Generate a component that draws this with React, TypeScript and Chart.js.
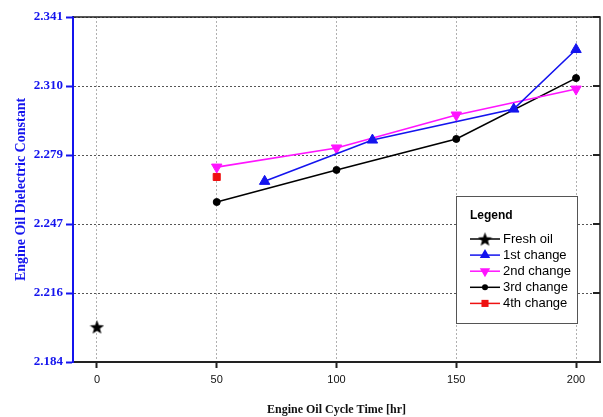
import React, { useEffect, useRef } from 'react';
import { Chart, registerables } from 'chart.js';

Chart.register(...registerables);

// ---- data ----
const xTicks = [0, 50, 100, 150, 200];
const yTickValues = [2.184, 2.2154, 2.2468, 2.2782, 2.3096, 2.341];
const yTickLabels = ['2.184', '2.216', '2.247', '2.279', '2.310', '2.341'];

const freshX = [0];
const freshY = [2.2];
const firstX = [70, 115, 174, 200];
const firstY = [2.2662, 2.285, 2.2991, 2.3262];
const secondX = [50, 100, 150, 200];
const secondY = [2.2727, 2.2814, 2.2964, 2.3082];
const thirdX = [50, 100, 150, 200];
const thirdY = [2.2568, 2.2714, 2.2855, 2.3132];
const fourthX = [50];
const fourthY = [2.2682];

const legendTitle = 'Legend';

const BLUE = '#1414ee';
const MAGENTA = '#ff14ff';
const RED = '#ee1111';
const BLACK = '#000000';

const toPts = (xs: number[], ys: number[]) => xs.map((x, i) => ({ x, y: ys[i] }));

function makeStar(size: number, color: string): HTMLCanvasElement {
  const c = document.createElement('canvas');
  c.width = size;
  c.height = size;
  const g = c.getContext('2d')!;
  g.fillStyle = color;
  g.beginPath();
  const cx = size / 2;
  const cy = size / 2 + size * 0.05;
  for (let i = 0; i < 10; i++) {
    const r = i % 2 === 0 ? size / 2 : (size / 2) * 0.42;
    const a = -Math.PI / 2 + (i * Math.PI) / 5;
    g.lineTo(cx + r * Math.cos(a), cy + r * Math.sin(a));
  }
  g.closePath();
  g.fill();
  return c;
}

function drawMarker(ctx: CanvasRenderingContext2D, style: any, rot: number, x: number, y: number, r: number, color: string) {
  ctx.save();
  ctx.fillStyle = color;
  ctx.strokeStyle = color;
  if (style instanceof HTMLCanvasElement) {
    ctx.drawImage(style, x - style.width / 2, y - style.height / 2);
  } else if (style === 'triangle') {
    const s = rot === 180 ? -1 : 1;
    ctx.beginPath();
    ctx.moveTo(x, y - s * r);
    ctx.lineTo(x + r * 0.866, y + s * r * 0.5);
    ctx.lineTo(x - r * 0.866, y + s * r * 0.5);
    ctx.closePath();
    ctx.fill();
  } else if (style === 'rect') {
    const h = r * Math.SQRT1_2;
    ctx.fillRect(x - h, y - h, 2 * h, 2 * h);
  } else {
    ctx.beginPath();
    ctx.arc(x, y, r, 0, Math.PI * 2);
    ctx.fill();
  }
  ctx.restore();
}

const framePlugin = {
  id: 'frameAndLegend',
  afterDraw(chart: any) {
    const { ctx, chartArea: a, scales } = chart;
    ctx.save();
    // top and right frame
    ctx.strokeStyle = '#222';
    ctx.lineWidth = 1.5;
    ctx.beginPath();
    ctx.moveTo(a.left, a.top);
    ctx.lineTo(a.right, a.top);
    ctx.lineTo(a.right, a.bottom);
    ctx.stroke();
    // mirrored ticks on right
    ctx.lineWidth = 2;
    scales.y.ticks.forEach((t: any) => {
      const y = scales.y.getPixelForValue(t.value);
      ctx.beginPath();
      ctx.moveTo(a.right - 7, y);
      ctx.lineTo(a.right, y);
      ctx.stroke();
    });
    // re-draw blue left axis on top
    ctx.strokeStyle = BLUE;
    ctx.lineWidth = 2;
    ctx.beginPath();
    ctx.moveTo(a.left, a.top);
    ctx.lineTo(a.left, a.bottom);
    ctx.stroke();

    // legend box
    const bx = 456, by = 196, bw = 121, bh = 127;
    ctx.fillStyle = '#ffffff';
    ctx.fillRect(bx, by, bw, bh);
    ctx.strokeStyle = '#555';
    ctx.lineWidth = 1;
    ctx.strokeRect(bx + 0.5, by + 0.5, bw, bh);
    ctx.fillStyle = '#000';
    ctx.font = 'bold 12px "Liberation Sans", Arial, sans-serif';
    ctx.textBaseline = 'middle';
    ctx.textAlign = 'left';
    ctx.fillText(legendTitle, 470, 216);
    ctx.font = '13px "Liberation Sans", Arial, sans-serif';
    chart.data.datasets.forEach((ds: any, i: number) => {
      const y = 239 + i * 16.1;
      ctx.strokeStyle = ds.borderColor;
      ctx.lineWidth = 1.5;
      ctx.beginPath();
      ctx.moveTo(470, y);
      ctx.lineTo(500, y);
      ctx.stroke();
      drawMarker(ctx, ds.pointStyle, ds.pointRotation || 0, 485, y, ds.legendRadius, ds.borderColor);
      ctx.fillStyle = '#000';
      ctx.fillText(ds.label, 503, y + 0.5);
    });
    ctx.restore();
  },
};

export default function App() {
  const ref = useRef<HTMLCanvasElement>(null);
  useEffect(() => {
    const star = makeStar(15, BLACK);
    const chart = new Chart(ref.current!, {
      type: 'scatter',
      data: {
        datasets: [
          {
            label: 'Fresh oil', data: toPts(freshX, freshY), showLine: false,
            borderColor: BLACK, backgroundColor: BLACK, pointStyle: star as any, pointRadius: 7,
            legendRadius: 6,
          } as any,
          {
            label: '1st change', data: toPts(firstX, firstY), showLine: true,
            borderColor: BLUE, backgroundColor: BLUE, borderWidth: 1.6,
            pointStyle: 'triangle', pointRadius: 6, pointBorderWidth: 1, legendRadius: 6,
          },
          {
            label: '2nd change', data: toPts(secondX, secondY), showLine: true,
            borderColor: MAGENTA, backgroundColor: MAGENTA, borderWidth: 1.6,
            pointStyle: 'triangle', pointRotation: 180, pointRadius: 6, pointBorderWidth: 1, legendRadius: 6,
          },
          {
            label: '3rd change', data: toPts(thirdX, thirdY), showLine: true,
            borderColor: BLACK, backgroundColor: BLACK, borderWidth: 1.6,
            pointStyle: 'circle', pointRadius: 3.5, pointBorderWidth: 1, legendRadius: 3,
          },
          {
            label: '4th change', data: toPts(fourthX, fourthY), showLine: true,
            borderColor: RED, backgroundColor: RED, borderWidth: 1.6,
            pointStyle: 'rect', pointRadius: 5, pointBorderWidth: 1, legendRadius: 5,
          },
        ] as any,
      },
      options: {
        responsive: false,
        animation: false,
        layout: { autoPadding: false, padding: { top: 17, right: 3, left: 0, bottom: 0 } },
        plugins: { legend: { display: false }, tooltip: { enabled: false } },
        scales: {
          x: {
            type: 'linear', min: -10, max: 210,
            afterBuildTicks: (s: any) => { s.ticks = xTicks.map((v) => ({ value: v })); },
            afterFit: (s: any) => { s.height = 55; s.paddingLeft = 0; s.paddingRight = 0; },
            ticks: {
              font: { family: '"Liberation Sans", Arial, sans-serif', size: 11 },
              color: '#111', padding: 5, maxRotation: 0,
              callback: (v: any) => String(v),
            },
            grid: { color: '#b0b0b0', lineWidth: 1, tickLength: 6, tickColor: '#222', tickWidth: 2 },
            border: { color: '#222', width: 2, dash: [2, 2] },
            title: {
              display: true, text: 'Engine Oil Cycle Time [hr]', color: '#111',
              font: { family: '"Liberation Serif", "Times New Roman", serif', size: 12, weight: 'bold' },
              padding: { top: 4, bottom: 0 },
            },
          },
          y: {
            type: 'linear', min: 2.184, max: 2.341,
            afterBuildTicks: (s: any) => { s.ticks = yTickValues.map((v) => ({ value: v })); },
            afterFit: (s: any) => { s.width = 73; s.paddingTop = 0; s.paddingBottom = 0; },
            ticks: {
              font: { family: '"Liberation Serif", "Times New Roman", serif', size: 13, weight: 'bold' },
              color: BLUE, padding: 3,
              callback: (v: any) => {
                const i = yTickValues.findIndex((t) => Math.abs(t - v) < 1e-6);
                return i >= 0 ? yTickLabels[i] : '';
              },
            },
            grid: { color: '#555', lineWidth: 1, tickLength: 7, tickColor: BLUE, tickWidth: 2 },
            border: { color: BLUE, width: 2, dash: [2, 2] },
            title: {
              display: true, text: 'Engine Oil Dielectric Constant', color: BLUE,
              font: { family: '"Liberation Serif", "Times New Roman", serif', size: 14, weight: 'bold' },
              padding: { top: 13, bottom: 0 },
            },
          },
        },
      } as any,
      plugins: [framePlugin],
    });
    return () => chart.destroy();
  }, []);
  return (
    <div style={{ position: 'fixed', left: 0, top: 0, width: 603, height: 417, background: '#fff' }}>
      <canvas ref={ref} width={603} height={417} style={{ width: 603, height: 417, display: 'block' }} />
    </div>
  );
}
